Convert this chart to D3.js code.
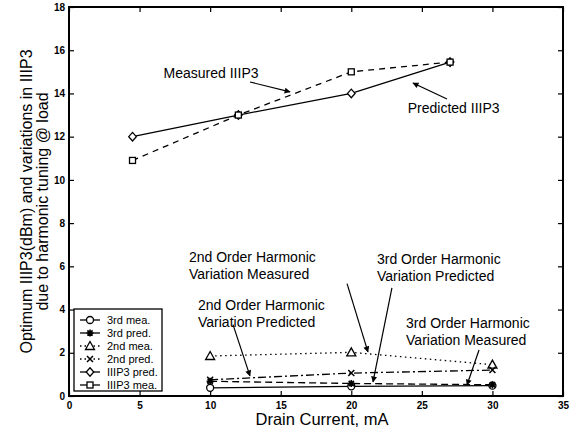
<!DOCTYPE html>
<html>
<head>
<meta charset="utf-8">
<script src="https://cdn.jsdelivr.net/npm/d3@7/dist/d3.min.js"></script>
<style>
  body { margin: 0; background: #fff; }
  svg { font-family: "Liberation Sans", Arial, sans-serif; }
  .tick text { font-size: 10px; font-weight: bold; }
</style>
</head>
<body>
<div id="chart"></div>
<script>
// Data (x = drain current in mA)
var iip3X = [4.5, 12, 20, 27];
var iip3Pred = [12, 13, 14, 15.45];
var iip3Mea = [10.9, 13, 15, 15.45];

var harmX = [10, 20, 30];
var thirdMea = [0.38, 0.45, 0.48];
var thirdPred = [0.68, 0.58, 0.52];
var secondMea = [1.85, 2.02, 1.45];
var secondPred = [0.75, 1.06, 1.2];

var xTicks = [0, 5, 10, 15, 20, 25, 30, 35];
var yTicks = [0, 2, 4, 6, 8, 10, 12, 14, 16, 18];

var legendLabels = ["3rd mea.", "3rd pred.", "2nd mea.", "2nd pred.", "IIIP3 pred.", "IIIP3 mea."];

var annotations = [
  {lines: ["Measured IIIP3"], x: 6.7, y: 14.95, from: [12.82, 14.53], to: [15.66, 14.07]},
  {lines: ["Predicted IIIP3"], x: 24.0, y: 13.33, from: [26.78, 13.74], to: [24.37, 14.48]},
  {lines: ["2nd Order Harmonic", "Variation Measured"], x: 8.5, y: 6.43, from: [19.7, 5.2], to: [21.18, 2.04]},
  {lines: ["3rd Order Harmonic", "Variation Predicted"], x: 21.82, y: 6.34, from: [22.88, 5.0], to: [21.54, 0.65]},
  {lines: ["2nd Order Harmonic", "Variation Predicted"], x: 9.14, y: 4.21, from: [11.62, 3.3], to: [12.82, 0.93]},
  {lines: ["3rd Order Harmonic", "Variation Measured"], x: 23.88, y: 3.38, from: [29.05, 2.13], to: [28.2, 0.51]}
];

function renderChart(){
    var svgWidth = 571, svgHeight = 438;
    var margin = {top: 7, right: 8, bottom: 42, left: 69};
    var width = svgWidth - margin.left - margin.right;
    var height = svgHeight - margin.top - margin.bottom;

    var svg = d3.select("#chart").append("svg")
        .attr("width", svgWidth)
        .attr("height", svgHeight);

    var defs = svg.append("defs");
    defs.append("marker")
        .attr("id", "arrow")
        .attr("viewBox", "0 0 10 10")
        .attr("refX", 9).attr("refY", 5)
        .attr("markerWidth", 9).attr("markerHeight", 6)
        .attr("markerUnits", "userSpaceOnUse")
        .attr("orient", "auto")
        .append("path").attr("d", "M0,0L10,5L0,10z").attr("fill", "#000");

    var chartGroup = svg.append("g")
        .attr("transform", `translate(${margin.left}, ${margin.top})`);

    var xScale = d3.scaleLinear().domain([0, 35]).range([0, width]);
    var yScale = d3.scaleLinear().domain([0, 18]).range([height, 0]);

    // axes, ticks pointing inward like matlab
    chartGroup.append("g")
        .attr("transform", `translate(0, ${height})`)
        .call(d3.axisBottom(xScale).tickValues(xTicks).tickSize(-5).tickPadding(6).tickFormat(d3.format("d")));
    chartGroup.append("g")
        .call(d3.axisLeft(yScale).tickValues(yTicks).tickSize(-5).tickPadding(4).tickFormat(d3.format("d")));
    chartGroup.append("g")
        .call(d3.axisTop(xScale).tickValues(xTicks).tickSize(-5).tickFormat(""));
    chartGroup.append("g")
        .attr("transform", `translate(${width}, 0)`)
        .call(d3.axisRight(yScale).tickValues(yTicks).tickSize(-5).tickFormat(""));
    chartGroup.selectAll(".domain").remove();
    chartGroup.selectAll(".tick line").attr("stroke-width", 1.2);

    chartGroup.append("rect")
        .attr("width", width).attr("height", height)
        .attr("fill", "none").attr("stroke", "#000").attr("stroke-width", 2);

    // series
    var series = [
      {xs: harmX, ys: thirdMea, dash: null, marker: "circle"},
      {xs: harmX, ys: thirdPred, dash: "7,4", marker: "star"},
      {xs: harmX, ys: secondMea, dash: "1.5,3.5", marker: "triangle"},
      {xs: harmX, ys: secondPred, dash: "8,3,2,3", marker: "x"},
      {xs: iip3X, ys: iip3Pred, dash: null, marker: "diamond"},
      {xs: iip3X, ys: iip3Mea, dash: "6,5", marker: "square"}
    ];

    var line = d3.line().x(d => xScale(d[0])).y(d => yScale(d[1]));

    function drawMarker(g, type, cx, cy){
        var m = g.append("g").attr("transform", `translate(${cx}, ${cy})`);
        var st = {fill: "#fff", stroke: "#000", "stroke-width": 1.3};
        function apply(el){ Object.keys(st).forEach(k => el.attr(k, st[k])); return el; }
        if (type == "circle") apply(m.append("circle").attr("r", 3.5));
        else if (type == "square") apply(m.append("rect").attr("x", -3).attr("y", -3).attr("width", 6).attr("height", 6));
        else if (type == "diamond") apply(m.append("path").attr("d", "M0,-4.3L3.8,0L0,4.3L-3.8,0Z"));
        else if (type == "triangle") apply(m.append("path").attr("d", "M0,-4.5L4.5,3.5L-4.5,3.5Z"));
        else if (type == "x") m.append("path").attr("d", "M-3,-3L3,3M-3,3L3,-3").attr("stroke", "#000").attr("stroke-width", 1.5);
        else if (type == "star") m.append("path").attr("d", "M-3.5,0L3.5,0M0,-3.5L0,3.5M-2.6,-2.6L2.6,2.6M-2.6,2.6L2.6,-2.6").attr("stroke", "#000").attr("stroke-width", 1.6);
    }

    series.forEach(function(s){
        var pts = s.xs.map((x, i) => [x, s.ys[i]]);
        chartGroup.append("path")
            .attr("d", line(pts))
            .attr("fill", "none")
            .attr("stroke", "#000")
            .attr("stroke-width", 1.3)
            .attr("stroke-dasharray", s.dash);
        pts.forEach(p => drawMarker(chartGroup, s.marker, xScale(p[0]), yScale(p[1])));
    });

    // annotations with arrows
    annotations.forEach(function(a){
        var t = chartGroup.append("text")
            .attr("x", xScale(a.x)).attr("y", yScale(a.y))
            .attr("font-size", 14).attr("fill", "#000");
        a.lines.forEach((l, i) => t.append("tspan").attr("x", xScale(a.x)).attr("dy", i == 0 ? "0.35em" : "1.2em").text(l));
        chartGroup.append("line")
            .attr("x1", xScale(a.from[0])).attr("y1", yScale(a.from[1]))
            .attr("x2", xScale(a.to[0])).attr("y2", yScale(a.to[1]))
            .attr("stroke", "#000").attr("stroke-width", 1.2)
            .attr("marker-end", "url(#arrow)");
    });

    // legend
    var legend = svg.append("g").attr("transform", "translate(74, 309)");
    legend.append("rect").attr("width", 88).attr("height", 82)
        .attr("fill", "#fff").attr("stroke", "#000").attr("stroke-width", 1.3);
    var legendDash = [null, null, "1.5,3", "1.5,3", null, null];
    legendLabels.forEach(function(lbl, i){
        var y = 11 + i * 13;
        legend.append("line").attr("x1", 6).attr("x2", 26).attr("y1", y).attr("y2", y)
            .attr("stroke", "#000").attr("stroke-width", 1.3).attr("stroke-dasharray", legendDash[i]);
        drawMarker(legend, series[i].marker, 16, y);
        legend.append("text").attr("x", 33).attr("y", y).attr("dy", "0.35em")
            .attr("font-size", 11).text(lbl);
    });

    // axis titles
    svg.append("text")
        .attr("x", margin.left + width / 2 + 6).attr("y", 425)
        .attr("text-anchor", "middle").attr("font-size", 16.5)
        .text("Drain Current, mA");
    var yl = svg.append("text")
        .attr("transform", `translate(26, ${margin.top + height / 2}) rotate(-90)`)
        .attr("text-anchor", "middle").attr("font-size", 16);
    yl.append("tspan").attr("x", 0).attr("dy", "0.35em").text("Optimum IIIP3(dBm) and variations in IIIP3");
    yl.append("tspan").attr("x", 0).attr("dy", "1.05em").text("due to harmonic tuning @ load");
}
renderChart();
</script>
</body>
</html>
